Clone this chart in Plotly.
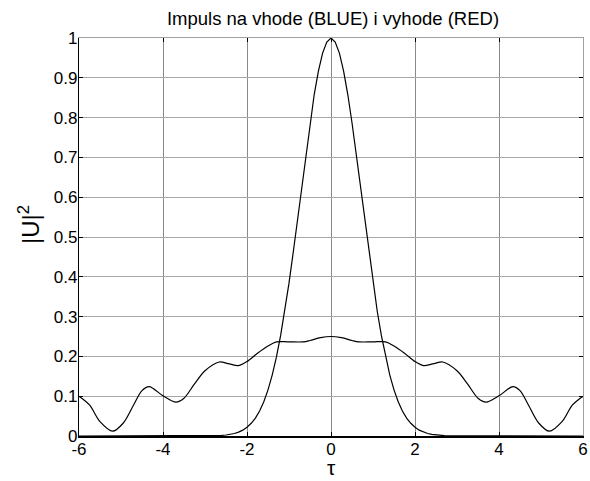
import plotly.graph_objects as go

# Input pulse (peak at 0)
tau_in = [-6.0, -3.0, -2.8, -2.7, -2.6, -2.5, -2.4, -2.3, -2.2, -2.1, -2.0, -1.9, -1.8, -1.7, -1.6,
          -1.5, -1.4, -1.3, -1.2, -1.1, -1.0, -0.9, -0.8, -0.7, -0.6, -0.5, -0.4, -0.3, -0.2, -0.1,
          0.0, 0.1, 0.2, 0.3, 0.4, 0.5, 0.6, 0.7, 0.8, 0.9, 1.0, 1.1, 1.2, 1.3, 1.4, 1.5, 1.6, 1.7,
          1.8, 1.9, 2.0, 2.1, 2.2, 2.3, 2.4, 2.5, 2.6, 2.7, 2.8, 3.0, 6.0]
u_in = [0.0, 0.0002, 0.0005, 0.0009, 0.0016, 0.0025, 0.004, 0.0063, 0.0097, 0.0147, 0.022, 0.032,
        0.045, 0.063, 0.086, 0.116, 0.153, 0.198, 0.252, 0.314, 0.384, 0.461, 0.542, 0.626, 0.709,
        0.787, 0.858, 0.917, 0.962, 0.990,
        1.000, 0.990, 0.962, 0.917, 0.858, 0.787, 0.709, 0.626, 0.542, 0.461, 0.384, 0.314, 0.252,
        0.198, 0.153, 0.116, 0.086, 0.063, 0.045, 0.032, 0.022, 0.0147, 0.0097, 0.0063, 0.004,
        0.0025, 0.0016, 0.0009, 0.0005, 0.0002, 0.0]

# Output pulse (oscillating)
tau_out = [-6.0, -5.75, -5.5, -5.2, -4.95, -4.7, -4.5, -4.33, -4.0, -3.69, -3.5, -3.25, -3.0,
           -2.66, -2.45, -2.2, -2.0, -1.75, -1.5, -1.3, -1.0, -0.66, -0.5, -0.25, 0.0,
           0.25, 0.5, 0.66, 1.0, 1.3, 1.5, 1.75, 2.0, 2.2, 2.45, 2.66, 3.0, 3.25, 3.5, 3.69,
           4.0, 4.33, 4.5, 4.7, 4.95, 5.2, 5.5, 5.75, 6.0]
u_out = [0.100, 0.078, 0.036, 0.012, 0.032, 0.078, 0.114, 0.124, 0.101, 0.085, 0.095, 0.131, 0.164,
         0.186, 0.182, 0.177, 0.187, 0.208, 0.226, 0.2365, 0.2365, 0.2365, 0.240, 0.247, 0.250,
         0.247, 0.240, 0.2365, 0.2365, 0.2365, 0.226, 0.208, 0.187, 0.177, 0.182, 0.186, 0.164,
         0.131, 0.095, 0.085, 0.101, 0.124, 0.114, 0.078, 0.032, 0.012, 0.036, 0.078, 0.100]

x_ticks = [-6, -4, -2, 0, 2, 4, 6]
y_ticks = [0, 0.1, 0.2, 0.3, 0.4, 0.5, 0.6, 0.7, 0.8, 0.9, 1]
y_tick_labels = ["0", "0.1", "0.2", "0.3", "0.4", "0.5", "0.6", "0.7", "0.8", "0.9", "1"]

FONT = "Liberation Sans, Arial, sans-serif"

fig = go.Figure()
fig.add_trace(go.Scatter(x=tau_in, y=u_in, mode="lines",
                         line=dict(color="black", width=1.2, shape="linear"),
                         showlegend=False, hoverinfo="skip"))
fig.add_trace(go.Scatter(x=tau_out, y=u_out, mode="lines",
                         line=dict(color="black", width=1.2, shape="spline", smoothing=0.9),
                         showlegend=False, hoverinfo="skip"))
# helper trace for mirrored (top/right) axes
fig.add_trace(go.Scatter(x=[0], y=[0], xaxis="x2", yaxis="y2", mode="markers",
                         marker=dict(opacity=0), showlegend=False, hoverinfo="skip"))

fig.update_layout(
    template="none",
    width=590, height=481,
    margin=dict(l=79, r=7, t=38, b=45, pad=0),
    paper_bgcolor="white", plot_bgcolor="white",
    font=dict(family=FONT, color="black", size=17),
    showlegend=False,
    xaxis=dict(range=[-6, 6], tickvals=x_ticks, ticktext=[str(v) for v in x_ticks],
               automargin=False, ticklabeloverflow="allow", ticklabelstandoff=-3,
               showgrid=True, gridcolor="#8a8a8a", gridwidth=1, zeroline=False,
               showline=True, linecolor="black", linewidth=1.5,
               ticks="inside", ticklen=4, tickcolor="black", tickfont=dict(size=17)),
    yaxis=dict(range=[0, 1], tickvals=y_ticks, ticktext=y_tick_labels,
               automargin=False, ticklabeloverflow="allow", ticklabelstandoff=-3,
               showgrid=True, gridcolor="#a8a8a8", gridwidth=1, zeroline=False,
               showline=True, linecolor="black", linewidth=1.2,
               ticks="inside", ticklen=4, tickcolor="black", tickfont=dict(size=17)),
    xaxis2=dict(range=[-6, 6], tickvals=x_ticks, overlaying="x", side="top", anchor="y",
                automargin=False,
                showgrid=False, zeroline=False, showticklabels=False,
                showline=True, linecolor="#a0a0a0", linewidth=1,
                ticks="inside", ticklen=4, tickcolor="black"),
    yaxis2=dict(range=[0, 1], tickvals=y_ticks, overlaying="y", side="right", anchor="x",
                automargin=False,
                showgrid=False, zeroline=False, showticklabels=False,
                showline=True, linecolor="#a0a0a0", linewidth=1,
                ticks="inside", ticklen=4, tickcolor="black"),
    title=dict(text="Impuls na vhode (BLUE) i vyhode (RED)", x=333/590, xanchor="center",
               y=1 - 19/481, yanchor="middle", yref="container",
               font=dict(family=FONT, size=18.5, color="black")),
    annotations=[
        dict(text="τ", xref="paper", yref="paper", x=0.5, y=0, xanchor="center",
             yanchor="bottom", yshift=-45, showarrow=False,
             font=dict(family=FONT, size=21, color="black")),
        dict(text="|U|<sup>2</sup>", xref="paper", yref="paper", x=0, y=0.5,
             xanchor="center", yanchor="middle", xshift=-50, yshift=12, textangle=-90,
             showarrow=False, font=dict(family=FONT, size=24, color="black")),
    ],
)

fig.write_html("out.html", config={"displayModeBar": False},
               post_script="document.body.style.margin='0';document.body.style.overflow='hidden';")
